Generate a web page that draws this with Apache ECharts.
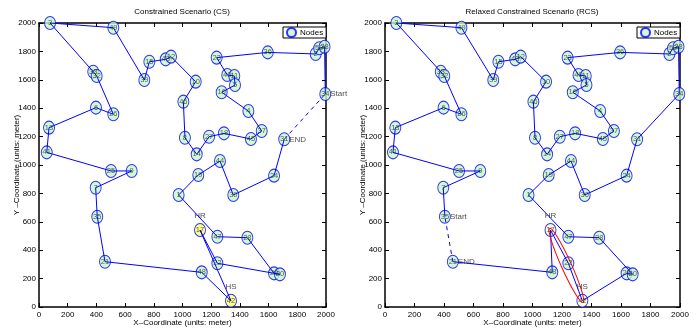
<!DOCTYPE html>
<html>
<head>
<meta charset="utf-8">
<script src="https://cdn.jsdelivr.net/npm/echarts@6/dist/echarts.min.js"></script>
<style>
  html, body { margin: 0; padding: 0; background: #fff; }
  #chart { width: 699px; height: 329px; }
</style>
</head>
<body>
<div id="chart"></div>
<script>
// node ids and coordinates (meters)
const nodeIds = ['3','49','39','15','43','12','33','32','6','26','13','41','25','9','7','35','21','10','46','8',
                 '14','27','18','45','37','4','16','40','11','5','23','36','2','50','38','34','31','44','19','1',
                 '24','30','17','47','28','22','48','29','20','42'];
const nodeX = [77,518,734,769,883,920,378,402,397,518, 70,54,502,646,395,406,460,1092,1006,1017,
               1099,1185,1289,1477,1552,1459,1273,1312,1361,1366, 1238,1594,1928,1953,1990,1995,1709,1261,1110,973,
               1638,1354,1122,1243,1452,1243,1134,1638,1679,1338];
const nodeY = [2000,1967,1599,1727,1744,1763,1657,1627,1404,1357, 1263,1089,958,958,840,636,319,1587,1446,1192,
               1075,1199,1223,1183,1239,1380,1512,1634,1627,1563, 1756,1793,1782,1822,1833,1500,1181,1028,930,789,
               925,789,542,495,488,308,244,237,230,44];

// visiting order of each scenario
const pathCS = ['34','38','50','2','36','23','40','11','5','16','4','37','45','18','27','14','8','46','10','12',
                '43','15','39','49','3','33','32','26','6','13','41','25','9','7','35','21','48','42','17','22',
                '20','29','28','47','1','19','44','30','24','31'];
const pathRCS = ['35','7','9','25','41','13','6','26','32','33','3','49','39','15','43','12','10','46','8','14',
                 '27','18','45','37','4','16','5','11','40','23','36','2','50','38','34','31','24','30','44','19',
                 '1','47','28','20','29','42','22','17','48','21'];

const hrNode = '17';
const hsNode = '42';
const startCS = '34', endCS = '31';
const startRCS = '35', endRCS = '21';

const ticks = { min: 0, max: 2000, step: 200 };

const font = '"Liberation Sans Narrow", "Liberation Sans", Arial, sans-serif';
const ellipseIcon = 'path://M0 1a1 1 0 1 0 2 0a1 1 0 1 0 -2 0z';
const pt = id => { const i = nodeIds.indexOf(id); return [nodeX[i], nodeY[i]]; };

function axes(gi) {
  const base = {
    type: 'value', gridIndex: gi, min: ticks.min, max: ticks.max, interval: ticks.step,
    axisLine: { show: true, onZero: false, lineStyle: { color: '#000', width: 1.5 } },
    axisTick: { show: true, inside: true, length: 4, lineStyle: { color: '#000', width: 1 } },
    splitLine: { show: false }
  };
  const lbl = { fontSize: 8, color: '#000', fontFamily: font, formatter: v => String(v) };
  const nameStyle = { fontSize: 8, color: '#000', fontFamily: font };
  return {
    x: [
      Object.assign({}, base, { position: 'bottom', axisLabel: Object.assign({ margin: 4 }, lbl),
        name: 'X\u2013Coordinate (units: meter)', nameLocation: 'middle', nameGap: 12,
        nameMoveOverlap: false, nameTextStyle: nameStyle }),
      Object.assign({}, base, { position: 'top', axisLabel: { show: false } })
    ],
    y: [
      Object.assign({}, base, { position: 'left', axisLabel: Object.assign({ margin: 3 }, lbl),
        name: 'Y \u2013Coordinate (units: meter)', nameLocation: 'middle', nameGap: 18,
        nameMoveOverlap: false, nameTextStyle: nameStyle }),
      Object.assign({}, base, { position: 'right', axisLabel: { show: false } })
    ]
  };
}

function plotSeries(gi, path, startId, endId, hrFill, relaxed) {
  const ax = { xAxisIndex: gi * 2, yAxisIndex: gi * 2 };
  const out = [];
  out.push(Object.assign({
    type: 'scatter', name: 'Nodes', z: 2,
    symbol: ellipseIcon, symbolSize: [11, 13],
    itemStyle: { color: '#c8f7c8', borderColor: '#0000ff', borderWidth: 1 },
    data: nodeIds.map((id, i) => {
      const d = { name: id, value: [nodeX[i], nodeY[i]] };
      if (id === hrNode || id === hsNode) d.itemStyle = { color: hrFill };
      return d;
    })
  }, ax));
  out.push(Object.assign({
    type: 'line', z: 3, symbol: 'none', silent: true,
    lineStyle: { color: '#0000ff', width: 1 },
    data: path.map(pt)
  }, ax));
  out.push(Object.assign({
    type: 'line', z: 3, symbol: 'none', silent: true,
    lineStyle: { color: '#0000ff', width: 1, type: [4, 4] },
    data: [pt(endId), pt(startId)]
  }, ax));
  // node numbers, written at each node
  out.push(Object.assign({
    type: 'scatter', z: 6, symbolSize: 2, silent: true,
    itemStyle: { color: 'rgba(0,0,0,0)' },
    label: { show: true, formatter: '{b}', position: 'inside', offset: [2, 2], fontSize: 7.5,
             color: '#2e3a2e', fontFamily: font },
    labelLayout: { hideOverlap: false },
    data: nodeIds.map((id, i) => ({ name: id, value: [nodeX[i], nodeY[i]] }))
  }, ax));
  if (relaxed) {
    out.push(Object.assign({
      type: 'custom', z: 4, silent: true,
      data: [[...pt(hrNode), ...pt(hsNode)]],
      renderItem: function (params, api) {
        const a = api.coord([api.value(0), api.value(1)]);
        const b = api.coord([api.value(2), api.value(3)]);
        const dx = b[0] - a[0], dy = b[1] - a[1];
        const len = Math.sqrt(dx * dx + dy * dy);
        return {
          type: 'ellipse',
          x: (a[0] + b[0]) / 2, y: (a[1] + b[1]) / 2,
          rotation: -Math.atan2(dy, dx),
          shape: { cx: 0, cy: 0, rx: len / 2 + 2, ry: 5 },
          style: { fill: 'none', stroke: '#ff0000', lineWidth: 1 }
        };
      }
    }, ax));
  }
  const notes = [
    { name: 'HR', value: pt(hrNode), label: { position: 'top', distance: 6 } },
    { name: 'HS', value: pt(hsNode), label: { position: 'top', distance: 6 } },
    { name: 'Start', value: pt(startId), label: { position: 'right', distance: 1 } },
    { name: 'END', value: pt(endId), label: { position: 'right', distance: 1 } }
  ];
  out.push(Object.assign({
    type: 'scatter', z: 5, symbolSize: 8, silent: true,
    itemStyle: { color: 'rgba(0,0,0,0)' },
    label: { show: true, formatter: '{b}', fontSize: 8, color: '#222', fontFamily: font },
    data: notes
  }, ax));
  return out;
}

const a0 = axes(0), a1 = axes(1);
const legendBase = {
  data: ['Nodes'], top: 27, orient: 'horizontal', icon: ellipseIcon,
  itemWidth: 9, itemHeight: 11, itemGap: 0, padding: [0, 3, 0, 3],
  borderColor: '#000', borderWidth: 1, backgroundColor: '#fff',
  textStyle: { fontSize: 8, color: '#000', fontFamily: font, padding: [0, 0, 0, -1] }
};

const option = {
  animation: false,
  backgroundColor: '#fff',
  title: [
    { text: 'Constrained Scenario (CS)', left: 182, top: 8, textAlign: 'center', padding: 0,
      textStyle: { fontSize: 8, fontWeight: 'normal', color: '#000', fontFamily: font } },
    { text: 'Relaxed Constrained Scenario (RCS)', left: 532, top: 8, textAlign: 'center', padding: 0,
      textStyle: { fontSize: 8, fontWeight: 'normal', color: '#000', fontFamily: font } }
  ],
  legend: [
    Object.assign({ left: 283 }, legendBase),
    Object.assign({ left: 637 }, legendBase)
  ],
  grid: [
    { left: 39, top: 23, width: 287, height: 284, outerBoundsMode: 'none' },
    { left: 385, top: 23, width: 295, height: 284, outerBoundsMode: 'none' }
  ],
  xAxis: [...a0.x, ...a1.x],
  yAxis: [...a0.y, ...a1.y],
  series: [
    ...plotSeries(0, pathCS, startCS, endCS, '#ffff66', false),
    ...plotSeries(1, pathRCS, startRCS, endRCS, '#ffffcc', true)
  ]
};

const chart = echarts.init(document.getElementById('chart'));
chart.setOption(option);
</script>
</body>
</html>
